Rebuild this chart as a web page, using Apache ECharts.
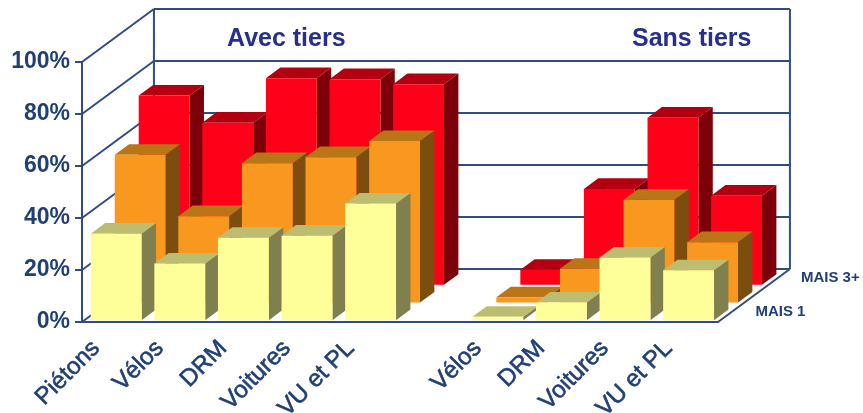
<!DOCTYPE html>
<html>
<head>
<meta charset="utf-8">
<style>
  html, body { margin: 0; padding: 0; background: #fff; }
  #chart { width: 863px; height: 413px; }
</style>
<script src="https://cdn.jsdelivr.net/npm/echarts@6/dist/echarts.min.js"></script>
</head>
<body>
<div id="chart"></div>
<script>
const categories = ['Piétons', 'Vélos', 'DRM', 'Voitures', 'VU et PL', '', 'Vélos', 'DRM', 'Voitures', 'VU et PL'];
const mais1 = [33.3, 21.8, 31.7, 32.5, 44.9, null, 1.3, 6.8, 24.1, 19.2];
const mais2 = [56.8, 33.2, 53.6, 55.9, 62.1, null, 2, 13, 39.5, 23.2];
const mais3 = [72.8, 62.4, 79.5, 79.1, 77.2, null, 5.8, 36.9, 64.3, 34.3];
const rowNames = ['MAIS 1', 'MAIS 2', 'MAIS 3+'];
const rowLabels = ['MAIS 1', 'MAIS 3+'];
const rowLabelDepths = [0.6, 2.5];
const yTicks = [0, 20, 40, 60, 80, 100];

const NAVY = '#1f3f75';
const LINE = '#2f4d80';
const FONT = '"Liberation Sans", Arial, sans-serif';

// depth of one row, as a share of a category slot and in % units
const ROW_DX = 0.377;
const ROW_DY = 6.8;
const ROWS = 3;

const project = (api, slot, across, value, depth) => {
  const band = api.size([1, 0])[0];
  const p = api.coord([slot, value]);
  const unit = api.size([0, 1])[1];
  return [p[0] + (across + depth * ROW_DX) * band, p[1] - depth * ROW_DY * unit];
};

const face = (points, fill) => ({
  type: 'polygon',
  shape: { points },
  style: { fill, stroke: null }
});

const barRenderer = (row, colors) => (params, api) => {
  const slot = api.value(0);
  const v = api.value(1);
  const d0 = row + 0.1;
  const d1 = row + 0.7;
  const l = -0.4;
  const r = 0.4;
  const pt = (a, val, d) => project(api, slot, a, val, d);
  return {
    type: 'group',
    children: [
      face([pt(r, 0, d0), pt(r, 0, d1), pt(r, v, d1), pt(r, v, d0)], colors.side),
      face([pt(l, v, d0), pt(r, v, d0), pt(r, v, d1), pt(l, v, d1)], colors.top),
      face([pt(l, 0, d0), pt(r, 0, d0), pt(r, v, d0), pt(l, v, d0)], colors.front)
    ]
  };
};

const wallLine = (a, b) => ({
  type: 'line',
  shape: { x1: a[0], y1: a[1], x2: b[0], y2: b[1] },
  style: { stroke: LINE, lineWidth: 2 }
});

const renderWall = (params, api) => {
  const v = api.value(0);
  const first = 0;
  const last = categories.length - 1;
  const frontLeft = project(api, first, -0.5, v, 0);
  const backLeft = project(api, first, -0.5, v, ROWS);
  const backRight = project(api, last, 0.5, v, ROWS);
  const children = [wallLine(frontLeft, backLeft), wallLine(backLeft, backRight)];
  if (v === 0) {
    const topLeft = project(api, first, -0.5, 100, ROWS);
    const topRight = project(api, last, 0.5, 100, ROWS);
    children.push(wallLine(backLeft, topLeft));
    children.push(wallLine(backRight, topRight));
    children.push(wallLine(project(api, last, 0.5, 0, 0), backRight));
  }
  return { type: 'group', children };
};

const renderRowLabel = (params, api) => {
  const p = project(api, categories.length - 1, 0.5, 0, api.value(0));
  return {
    type: 'text',
    x: p[0] + 23,
    y: p[1],
    style: {
      text: rowLabels[params.dataIndex],
      fill: NAVY,
      font: 'bold 15px ' + FONT,
      textAlign: 'left',
      textVerticalAlign: 'middle'
    }
  };
};

const toData = values => values
  .map((v, i) => [i, v])
  .filter(d => d[1] !== null);

const barSeries = (name, values, row, colors) => ({
  name,
  type: 'custom',
  clip: false,
  z: 5 + (ROWS - row),
  renderItem: barRenderer(row, colors),
  data: toData(values)
});

const titleStyle = { color: '#26308a', fontSize: 25, fontWeight: 'bold', fontFamily: FONT };

const chart = echarts.init(document.getElementById('chart'));
chart.setOption({
  animation: false,
  backgroundColor: '#fff',
  textStyle: { fontFamily: FONT },
  title: [
    { text: 'Avec tiers', left: 222, top: 22, textStyle: titleStyle },
    { text: 'Sans tiers', left: 627, top: 22, textStyle: titleStyle }
  ],
  grid: { left: 82, right: 145, top: 62, height: 260, outerBoundsMode: 'none' },
  xAxis: {
    type: 'category',
    data: categories,
    axisTick: { show: false },
    axisLine: { show: true, lineStyle: { color: LINE, width: 2 } },
    axisLabel: {
      interval: 0,
      rotate: 45,
      margin: 5,
      padding: [0, 25, 0, 0],
      color: NAVY,
      fontSize: 24,
      fontFamily: FONT,
      textBorderColor: NAVY,
      textBorderWidth: 0.6
    }
  },
  yAxis: {
    type: 'value',
    min: 0,
    max: 100,
    interval: 20,
    splitLine: { show: false },
    axisTick: { show: true, length: 7, lineStyle: { color: LINE, width: 2 } },
    axisLine: { show: true, lineStyle: { color: LINE, width: 2 } },
    axisLabel: {
      formatter: '{value}%',
      margin: 12,
      color: NAVY,
      fontSize: 23,
      fontWeight: 'bold',
      fontFamily: FONT
    }
  },
  series: [
    { type: 'custom', clip: false, z: 1, renderItem: renderWall, data: yTicks.map(v => [v]), encode: { x: -1, y: 0 } },
    barSeries(rowNames[2], mais3, 2, { front: '#ff0019', top: '#b30010', side: '#7c0009' }),
    barSeries(rowNames[1], mais2, 1, { front: '#f9981f', top: '#b97516', side: '#7b4e0f' }),
    barSeries(rowNames[0], mais1, 0, { front: '#ffff99', top: '#bdbd72', side: '#80804f' }),
    { type: 'custom', clip: false, z: 9, renderItem: renderRowLabel, data: rowLabelDepths.map(d => [d]), encode: { x: -1, y: -1 } }
  ]
});
</script>
</body>
</html>
